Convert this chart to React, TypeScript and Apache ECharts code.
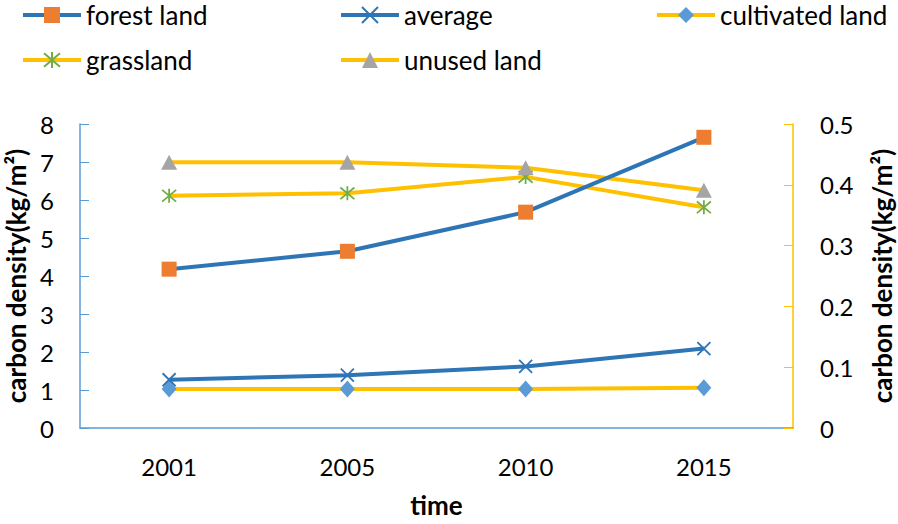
import React, { useEffect, useRef } from "react";
import * as echarts from "echarts";

const years = ["2001", "2005", "2010", "2015"];
const forestLand = [4.18, 4.65, 5.68, 7.65];
const average = [1.27, 1.39, 1.62, 2.09];
const cultivatedLand = [0.064, 0.064, 0.064, 0.066];
const grassland = [0.382, 0.386, 0.413, 0.363];
const unusedLand = [0.437, 0.437, 0.428, 0.391];

const leftTicks = { min: 0, max: 8, interval: 1 };
const rightTicks = { min: 0, max: 0.5, interval: 0.1 };

const BLUE = "#2E75B6";
const YELLOW = "#FFC000";
const FONT = "Lato";

const xPath = "path://M0,0L10,10M10,0L0,10";
const starPath = "path://M0,0L10,10M10,0L0,10M5,-1L5,11";

export default function App() {
  const ref = useRef<HTMLDivElement>(null);
  useEffect(() => {
    if (!ref.current) return;
    const chart = echarts.init(ref.current, undefined, { renderer: "svg" });
    const legendBase = {
      padding: 0,
      itemWidth: 58,
      itemHeight: 20,
      itemGap: 0,
      lineStyle: { width: 4 },
      textStyle: { fontFamily: FONT, fontSize: 26, color: "#000" },
    };
    const nameStyle = { fontFamily: FONT, fontSize: 26, fontWeight: "bold", color: "#000" };
    chart.setOption({
      animation: false,
      legend: [
        { ...legendBase, left: 21, top: 2, data: ["forest land"] },
        { ...legendBase, left: 339, top: 2, data: ["average"] },
        { ...legendBase, left: 655, top: 2, data: ["cultivated land"] },
        { ...legendBase, left: 21, top: 47, data: ["grassland"] },
        { ...legendBase, left: 339, top: 47, data: ["unused land"] },
      ],
      grid: { left: 80, right: 105, top: 124, bottom: 96, containLabel: false, outerBoundsMode: "none" },
      xAxis: {
        type: "category",
        data: years,
        boundaryGap: true,
        name: "time",
        nameLocation: "middle",
        nameGap: 64,
        nameTextStyle: nameStyle,
        axisLine: { lineStyle: { color: "#5B9BD5", width: 1.5 } },
        axisTick: { inside: true, length: 8, alignWithLabel: false, lineStyle: { color: "#5B9BD5" } },
        axisLabel: { fontFamily: FONT, fontSize: 24, color: "#000", margin: 26 },
      },
      yAxis: [
        {
          type: "value",
          ...leftTicks,
          position: "left",
          name: "carbon density(kg/m²)",
          nameLocation: "middle",
          nameRotate: 90,
          nameGap: 48,
          nameTextStyle: nameStyle,
          axisLine: { show: true, lineStyle: { color: "#5B9BD5", width: 1.5 } },
          axisTick: { show: true, inside: true, length: 9, lineStyle: { color: "#5B9BD5" } },
          axisLabel: { fontFamily: FONT, fontSize: 24, color: "#000", margin: 26 },
          splitLine: { show: false },
        },
        {
          type: "value",
          ...rightTicks,
          position: "right",
          name: "carbon density(kg/m²)",
          nameLocation: "middle",
          nameRotate: 90,
          nameGap: 76,
          nameTextStyle: nameStyle,
          axisLine: { show: true, lineStyle: { color: YELLOW, width: 1.5 } },
          axisTick: { show: true, inside: true, length: 9, lineStyle: { color: YELLOW } },
          axisLabel: {
            fontFamily: FONT,
            fontSize: 24,
            color: "#000",
            margin: 27,
            formatter: (v: number) => (v === 0 ? "0" : v.toFixed(1)),
          },
          splitLine: { show: false },
        },
      ],
      series: [
        {
          name: "cultivated land",
          type: "line",
          yAxisIndex: 1,
          data: cultivatedLand,
          symbol: "diamond",
          symbolSize: [15, 17],
          lineStyle: { color: YELLOW, width: 4 },
          itemStyle: { color: "#5B9BD5" },
          z: 2,
        },
        {
          name: "grassland",
          type: "line",
          yAxisIndex: 1,
          data: grassland,
          symbol: starPath,
          symbolSize: 14,
          lineStyle: { color: YELLOW, width: 4 },
          itemStyle: { color: "transparent", borderColor: "#70AD47", borderWidth: 1.8 },
          z: 3,
        },
        {
          name: "unused land",
          type: "line",
          yAxisIndex: 1,
          data: unusedLand,
          symbol: "triangle",
          symbolSize: [16, 15],
          lineStyle: { color: YELLOW, width: 4 },
          itemStyle: { color: "#A5A5A5" },
          z: 3,
        },
        {
          name: "average",
          type: "line",
          yAxisIndex: 0,
          data: average,
          symbol: xPath,
          symbolSize: 13,
          lineStyle: { color: BLUE, width: 4 },
          itemStyle: { color: "transparent", borderColor: BLUE, borderWidth: 1.8 },
          z: 4,
        },
        {
          name: "forest land",
          type: "line",
          yAxisIndex: 0,
          data: forestLand,
          symbol: "rect",
          symbolSize: 15,
          lineStyle: { color: BLUE, width: 4 },
          itemStyle: { color: "#ED7D31" },
          z: 4,
        },
      ],
    });
    return () => chart.dispose();
  }, []);
  return <div ref={ref} style={{ width: 898, height: 524, position: "absolute", left: 0, top: 0 }} />;
}
